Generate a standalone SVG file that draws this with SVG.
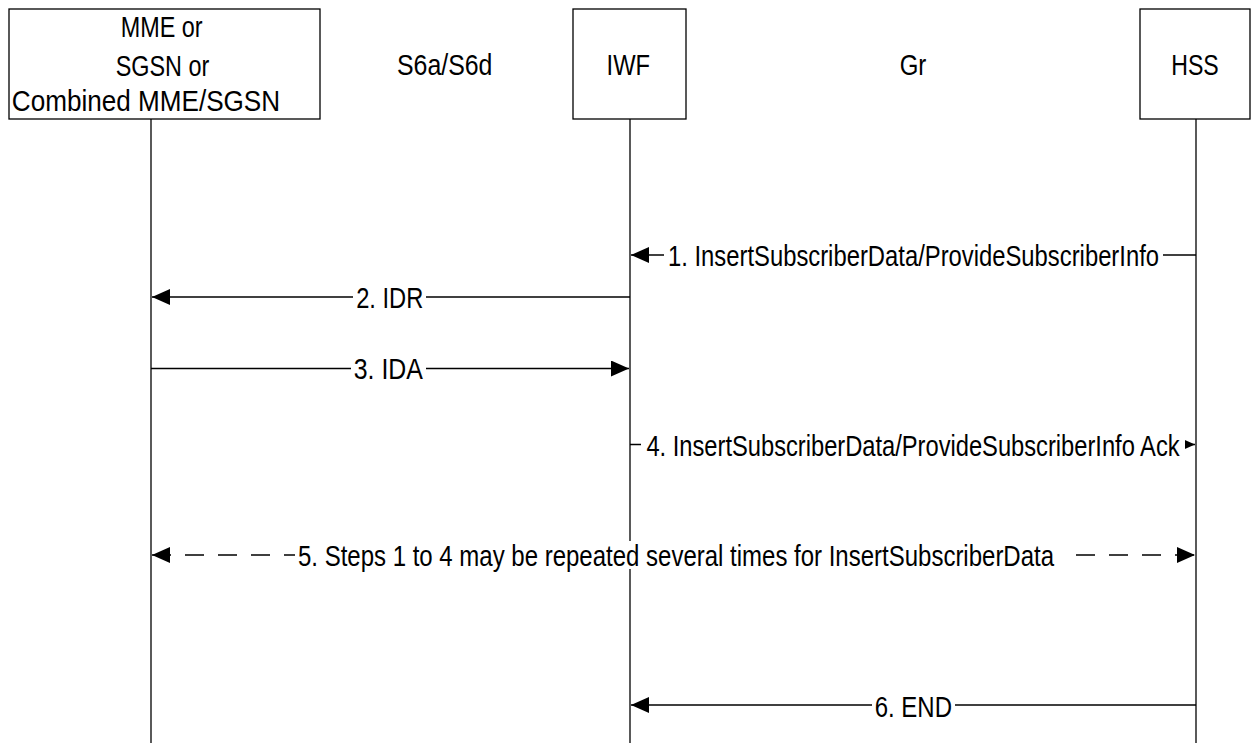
<svg xmlns="http://www.w3.org/2000/svg" width="1251" height="743" viewBox="0 0 1251 743">
  <style>
    .box { fill: #fff; stroke: #000; stroke-width: 1.3; }
    .life { stroke: #000; stroke-width: 1.3; fill: none; }
    .msg { stroke: #000; stroke-width: 1.3; fill: none; }
    .dash { stroke-dasharray: 19 14; }
    .t { font-family: "Liberation Sans", Arial, sans-serif; font-size: 30px; fill: #000; text-anchor: middle; }
    .bg { fill: #fff; stroke: none; }
  </style>
  <defs>
    <marker id="arr" markerUnits="userSpaceOnUse" markerWidth="19" markerHeight="17" refX="18" refY="8" orient="auto-start-reverse" viewBox="0 0 19 17">
      <path d="M0,0 L18,8 L0,16 Z" fill="#000"/>
    </marker>
  </defs>
  <rect width="1251" height="743" fill="#fff"/>

  <g id="node-mme">
    <line class="life" x1="151" y1="119" x2="151" y2="743"/>
    <rect class="box" x="9" y="9" width="311" height="110"/>
    <text class="t" transform="translate(161.7,36.7) scale(0.78,1)">MME or</text>
    <text class="t" transform="translate(162.5,75.5) scale(0.78,1)">SGSN or</text>
    <text class="t" transform="translate(146,111) scale(0.87,1)">Combined MME/SGSN</text>
  </g>
  <g id="label-s6a">
    <text class="t" transform="translate(444.7,75) scale(0.83,1)">S6a/S6d</text>
  </g>
  <g id="node-iwf">
    <line class="life" x1="630" y1="119" x2="630" y2="743"/>
    <rect class="box" x="573" y="9" width="113" height="110"/>
    <text class="t" transform="translate(628.3,75) scale(0.79,1)">IWF</text>
  </g>
  <g id="label-gr">
    <text class="t" transform="translate(913,75) scale(0.8,1)">Gr</text>
  </g>
  <g id="node-hss">
    <line class="life" x1="1196" y1="119" x2="1196" y2="743"/>
    <rect class="box" x="1140" y="9" width="110" height="110"/>
    <text class="t" transform="translate(1195,75) scale(0.77,1)">HSS</text>
  </g>

  <g id="connectors">
    <g id="m1">
      <line class="msg" x1="1196" y1="255" x2="631" y2="255" marker-end="url(#arr)"/>
      <rect class="bg" x="664" y="241" width="499" height="28"/>
      <text class="t" transform="translate(913.5,266) scale(0.794,1)">1. InsertSubscriberData/ProvideSubscriberInfo</text>
    </g>
    <g id="m2">
      <line class="msg" x1="630" y1="297" x2="152" y2="297" marker-end="url(#arr)"/>
      <rect class="bg" x="353" y="283" width="73" height="28"/>
      <text class="t" transform="translate(389.7,307.5) scale(0.79,1)">2. IDR</text>
    </g>
    <g id="m3">
      <line class="msg" x1="151" y1="368.5" x2="629" y2="368.5" marker-end="url(#arr)"/>
      <rect class="bg" x="351" y="354" width="75" height="28"/>
      <text class="t" transform="translate(388.3,379) scale(0.83,1)">3. IDA</text>
    </g>
    <g id="m4">
      <line class="msg" x1="630" y1="444.5" x2="1195" y2="444.5" marker-end="url(#arr)"/>
      <rect class="bg" x="641" y="430" width="544" height="28"/>
      <text class="t" transform="translate(913,455.5) scale(0.79,1)">4. InsertSubscriberData/ProvideSubscriberInfo Ack</text>
    </g>
    <g id="m5">
      <line class="msg dash" x1="152" y1="555" x2="1195" y2="555" marker-start="url(#arr)" marker-end="url(#arr)"/>
      <rect class="bg" x="295" y="541" width="767" height="28"/>
      <text class="t" transform="translate(676,566) scale(0.8,1)">5. Steps 1 to 4 may be repeated several times for InsertSubscriberData</text>
    </g>
    <g id="m6">
      <line class="msg" x1="1196" y1="705" x2="631" y2="705" marker-end="url(#arr)"/>
      <rect class="bg" x="872" y="691" width="83" height="28"/>
      <text class="t" transform="translate(913.3,716.5) scale(0.8,1)">6. END</text>
    </g>
  </g>
</svg>
